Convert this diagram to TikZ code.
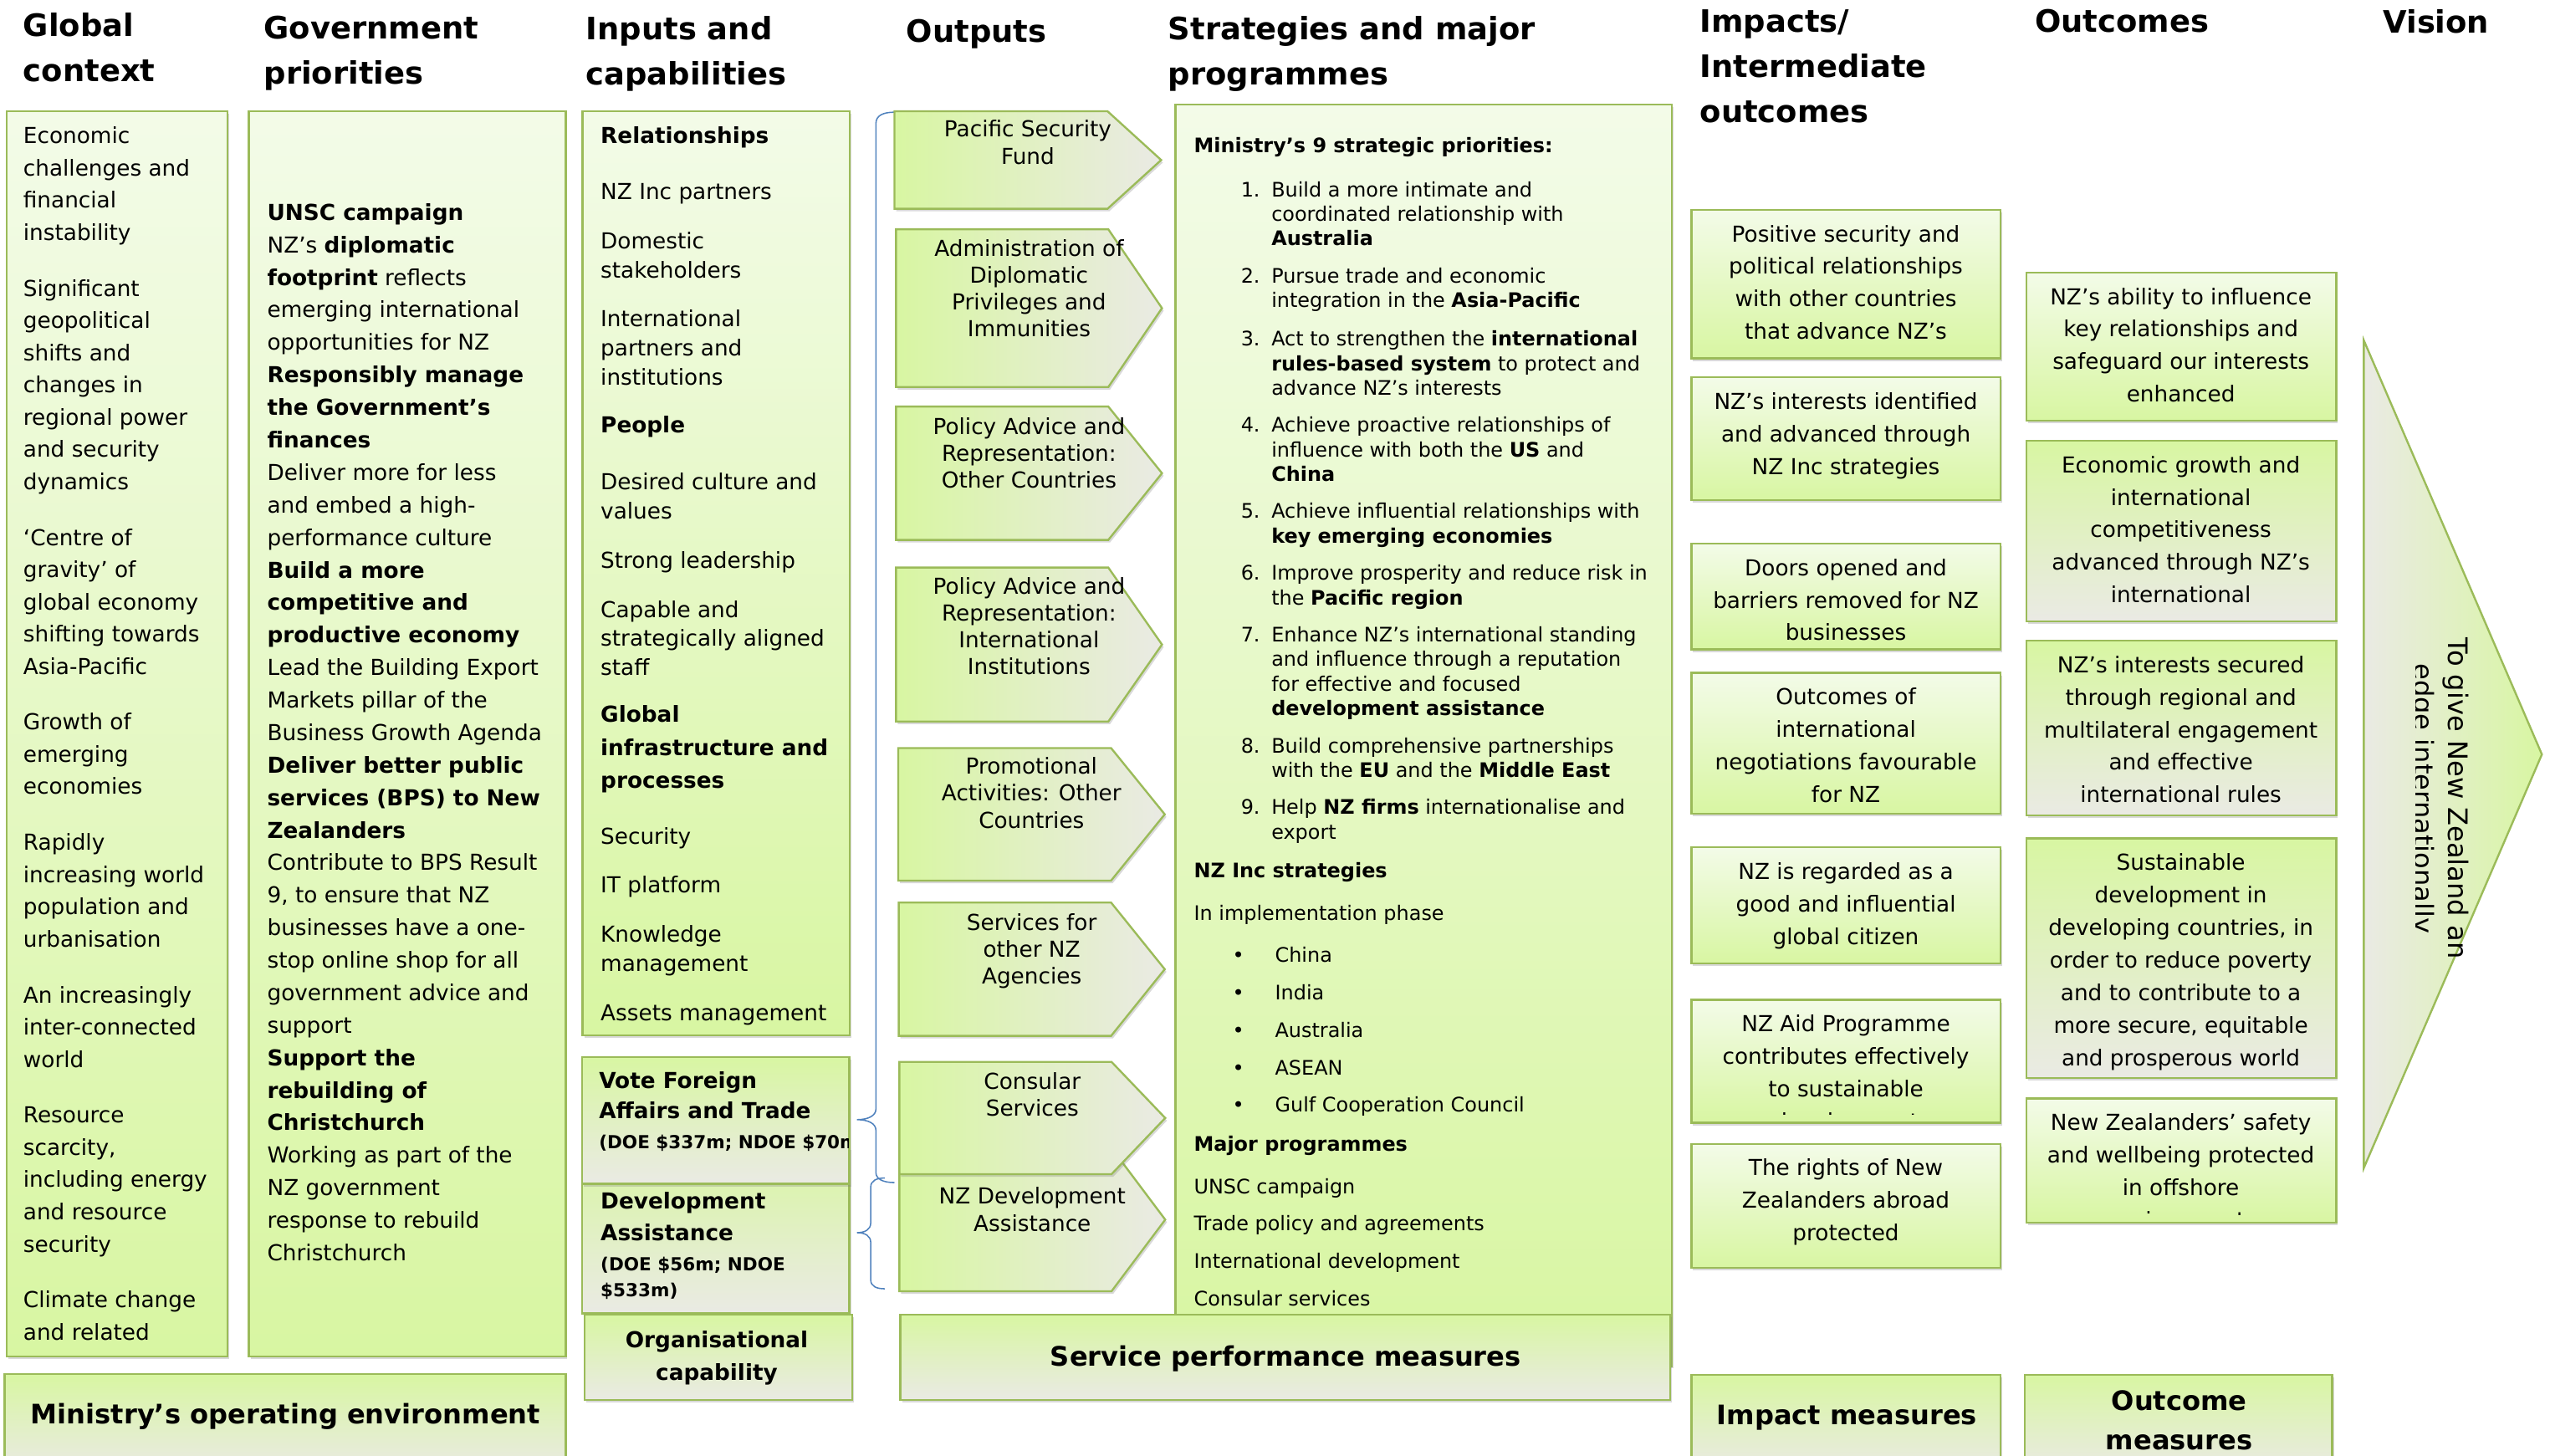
\documentclass[tikz,border=0pt]{standalone}
\usepackage{fontspec}
\setmainfont{DejaVu Sans}
\usetikzlibrary{fit,shadows}

\definecolor{lgtop}{RGB}{243,251,232}
\definecolor{lgbot}{RGB}{216,246,162}
\definecolor{greyc}{RGB}{234,234,228}
\definecolor{edgec}{RGB}{155,187,89}
\definecolor{bracec}{RGB}{79,129,189}

\newcommand{\stbullet}{\makebox[28.4pt][l]{\hspace*{13.5pt}\textbullet}}

% output chevron: name, left, top, tip, bottom, text top, text
\newcommand{\outchev}[7]{%
  \draw[chev] (#2,#3) -- (#4-33,#3) -- (#4,{(#3+#5)/2}) -- (#4-33,#5) -- (#2,#5) -- cycle;
  \node[chevtext] (#1) at ({(#2+#4)/2},#6) {#7};}

\tikzset{
  box/.style={draw=edgec, line width=0.7pt, inner sep=0pt,
    drop shadow={shadow xshift=0.6pt, shadow yshift=-0.9pt, opacity=0.3}},
  lightbox/.style={box, top color=lgtop, bottom color=lgbot},
  greybox/.style={box, top color=lgbot, bottom color=greyc},
  chev/.style={draw=edgec, line width=0.7pt, left color=lgbot, right color=greyc,
    drop shadow={shadow xshift=0.6pt, shadow yshift=-0.9pt, opacity=0.3}},
  head/.style={font=\fontsize{10.8}{15.9}\selectfont\bfseries, align=left,
    anchor=north west, inner sep=0pt},
  body/.style={font=\fontsize{7.7}{11.38}\selectfont, align=left,
    anchor=north west, inner sep=0pt},
  ctext/.style={font=\fontsize{7.7}{11.38}\selectfont, align=center,
    anchor=north, inner sep=0pt},
  chevtext/.style={font=\fontsize{7.7}{9.39}\selectfont, align=center,
    anchor=north, inner sep=0pt},
  stext/.style={font=\fontsize{7}{8.54}\selectfont, align=left,
    anchor=north west, inner sep=0pt},
  numlist/.style={font=\fontsize{7}{8.54}\selectfont, anchor=north west, inner sep=0pt},
  measure/.style={font=\fontsize{9.4}{13.7}\selectfont\bfseries, align=center, inner sep=0pt},
  bline/.style={draw=bracec, line width=0.45pt},
}

\begin{document}
\begin{tikzpicture}[x=0.02cm, y=-0.02cm]
\useasboundingbox (0,0) rectangle (1568,895);

% column heads
\node[head] (hglobal) at (14,7.5) {Global\\context};
\node[head] (hgov) at (162,9.5) {Government\\priorities};
\node[head] (hinput) at (360,9.5) {Inputs and\\capabilities};
\node[head] (houtput) at (557,11.5) {Outputs};
\node[head] (hstrat) at (718,9.5) {Strategies and major\\programmes};
\node[head] (himpact) at (1045,5.5) {Impacts/\\Intermediate\\outcomes};
\node[head] (houtcome) at (1251,5.5) {Outcomes};
\node[head] (hvision) at (1465,5.5) {Vision};

% global context
\node[lightbox, fit={(4,68.4) (140,834)}] (gcbox) {};
\node[body, font=\fontsize{7.7}{11.27}\selectfont] (gctxt) at (14,77.7) {Economic\\challenges and\\financial\\instability\\[8.3pt]
Significant\\geopolitical\\shifts and\\changes in\\regional power\\and security\\dynamics\\[8.3pt]
‘Centre of\\gravity’ of\\global economy\\shifting towards\\Asia-Pacific\\[8.3pt]
Growth of\\emerging\\economies\\[8.3pt]
Rapidly\\increasing world\\population and\\urbanisation\\[8.3pt]
An increasingly\\inter-connected\\world\\[8.3pt]
Resource\\scarcity,\\including energy\\and resource\\security\\[8.3pt]
Climate change\\and related};

% government priorities
\node[lightbox, fit={(153,68.4) (347.8,834)}] (gpbox) {};
\node[body] (gptxt) at (164,124.8) {\textbf{UNSC campaign}\\
NZ’s \textbf{diplomatic}\\
\textbf{footprint} reflects\\
emerging international\\
opportunities for NZ\\
\textbf{Responsibly manage}\\
\textbf{the Government’s}\\
\textbf{finances}\\
Deliver more for less\\
and embed a high-\\
performance culture\\
\textbf{Build a more}\\
\textbf{competitive and}\\
\textbf{productive economy}\\
Lead the Building Export\\
Markets pillar of the\\
Business Growth Agenda\\
\textbf{Deliver better public}\\
\textbf{services (BPS) to New}\\
\textbf{Zealanders}\\
Contribute to BPS Result\\
9, to ensure that NZ\\
businesses have a one-\\
stop online shop for all\\
government advice and\\
support\\
\textbf{Support the}\\
\textbf{rebuilding of}\\
\textbf{Christchurch}\\
Working as part of the\\
NZ government\\
response to rebuild\\
Christchurch};

% operating environment
\node[greybox, fit={(2.8,845) (347.8,905)}] (envbox) {};
\node[measure] (envtxt) at (175.6,871) {Ministry’s operating environment};

% inputs and capabilities
\node[lightbox, fit={(358.2,68.4) (522.5,636.7)}] (inbox) {};
\node[body, font=\fontsize{7.7}{10.24}\selectfont] (intxt) at (369,77.7) {\textbf{Relationships}\\[9.4pt]
NZ Inc partners\\[6.9pt]
Domestic\\stakeholders\\[6.9pt]
International\\partners and\\institutions\\[6.3pt]
\textbf{People}\\[9.7pt]
Desired culture and\\values\\[7.1pt]
Strong leadership\\[6.8pt]
Capable and\\strategically aligned\\staff\\[6.1pt]
\textbf{Global}\\[1.3pt]
\textbf{infrastructure and}\\[1.3pt]
\textbf{processes}\\[9.3pt]
Security\\[6.9pt]
IT platform\\[6.9pt]
Knowledge\\management\\[6.9pt]
Assets management};

% votes
\node[greybox, fit={(357.8,705.6) (522.3,807.7)}] (dabox) {};
\node[body] (datxt) at (369,732.5) {\textbf{Development}\\\textbf{Assistance}\\[-1.1pt]
{\fontsize{6.3}{7}\selectfont\bfseries (DOE \$56m; NDOE}\\[-2.3pt]
{\fontsize{6.3}{7}\selectfont\bfseries \$533m)}};
\node[greybox, fit={(357.8,650) (522.3,728)}] (vfbox) {};
\begin{scope}
  \clip (357.8,650) rectangle (521.8,728);
  \node[body] (vftxt) at (368,658.5) {\textbf{Vote Foreign}\\[-0.6pt]\textbf{Affairs and Trade}\\[-1.1pt]
  {\fontsize{6.3}{7}\selectfont\bfseries (DOE \$337m; NDOE \$70m)}};
\end{scope}

\node[greybox, fit={(359.5,808.5) (524,861)}] (ocbox) {};
\node[ctext, font=\fontsize{7.7}{11.38}\selectfont\bfseries] (octxt) at (440.7,818.2) {Organisational\\capability};

% brackets
\draw[bline] (550,69) .. controls (543,69) and (538.6,71) .. (538.6,76)
  -- (538.6,682) .. controls (538.6,686) and (534,688.5) .. (527,688.5)
  .. controls (534,688.5) and (538.6,691) .. (538.6,695)
  -- (538.6,721) .. controls (538.6,725) and (543,727.2) .. (550,727.2);
\draw[bline] (544,724.4) .. controls (539,724.4) and (535.4,726) .. (535.4,730)
  -- (535.4,752) .. controls (535.4,756) and (532,758) .. (527,758)
  .. controls (532,758) and (535.4,760) .. (535.4,764)
  -- (535.4,787) .. controls (535.4,791) and (539,792.5) .. (544,792.5);

% outputs
\outchev{psf}{550}{68.4}{714}{128.4}{73.7}{Pacific Security\\Fund}
\outchev{adp}{551}{141}{714.5}{238}{147.1}{Administration of\\Diplomatic\\Privileges and\\Immunities}
\outchev{pac}{551}{250}{714.5}{332}{256.5}{Policy Advice and\\Representation:\\Other Countries}
\outchev{pai}{551}{349}{714.5}{443.7}{354.8}{Policy Advice and\\Representation:\\International\\Institutions}
\outchev{pro}{552.3}{460}{716.2}{541.5}{465.5}{Promotional\\Activities: Other\\Countries}
\outchev{sfa}{552.6}{555}{716.2}{637}{561.5}{Services for\\other NZ\\Agencies}
\outchev{nzd}{553}{706}{716.5}{794}{729.9}{NZ Development\\Assistance}
\outchev{con}{553}{653}{716.5}{722}{659.3}{Consular\\Services}

% strategies and programmes
\node[lightbox, fit={(722.8,64.4) (1028,840)}] (stbox) {};
\node[stext, font=\fontsize{7}{8.54}\selectfont\bfseries] (sttitle) at (733.8,84) {Ministry’s 9 strategic priorities:};
\node[numlist] (stlist) at (762.7,110) {\begin{tabular}{@{}r@{\hspace{4pt}}l@{}}
1. & Build a more intimate and\\
   & coordinated relationship with\\
   & \textbf{Australia}\\[4.55pt]
2. & Pursue trade and economic\\
   & integration in the \textbf{Asia-Pacific}\\[5.1pt]
3. & Act to strengthen the \textbf{international}\\
   & \textbf{rules-based system} to protect and\\
   & advance NZ’s interests\\[4.55pt]
4. & Achieve proactive relationships of\\
   & influence with both the \textbf{US} and\\
   & \textbf{China}\\[4.55pt]
5. & Achieve influential relationships with\\
   & \textbf{key emerging economies}\\[4.55pt]
6. & Improve prosperity and reduce risk in\\
   & the \textbf{Pacific region}\\[4.55pt]
7. & Enhance NZ’s international standing\\
   & and influence through a reputation\\
   & for effective and focused\\
   & \textbf{development assistance}\\[4.55pt]
8. & Build comprehensive partnerships\\
   & with the \textbf{EU} and the \textbf{Middle East}\\[4.55pt]
9. & Help \textbf{NZ firms} internationalise and\\
   & export
\end{tabular}};
\node[stext] (strest) at (733.8,530) {\textbf{NZ Inc strategies}\\[6.3pt]
In implementation phase\\[6.3pt]
\stbullet China\\[4.55pt]
\stbullet India\\[4.55pt]
\stbullet Australia\\[4.55pt]
\stbullet ASEAN\\[4.55pt]
\stbullet Gulf Cooperation Council\\[5.1pt]
\textbf{Major programmes}\\[6.3pt]
UNSC campaign\\[4.55pt]
Trade policy and agreements\\[4.55pt]
International development\\[4.55pt]
Consular services};

\node[greybox, fit={(553.6,808.4) (1027,861)}] (spbox) {};
\node[measure] (sptxt) at (790.6,835.7) {Service performance measures};

% impacts
\foreach \nm/\ya/\yb/\txt in {
  ima/129/220.4/{Positive security and\\political relationships\\with other countries\\that advance NZ’s},
  imb/232/307.6/{NZ’s interests identified\\and advanced through\\NZ Inc strategies},
  imc/334.3/399.3/{Doors opened and\\barriers removed for NZ\\businesses},
  imd/413.8/500.4/{Outcomes of\\international\\negotiations favourable\\for NZ},
  ime/521/592.3/{NZ is regarded as a\\good and influential\\global citizen},
  imf/614.9/690.4/{NZ Aid Programme\\contributes effectively\\to sustainable\\development},
  img/703.4/779.6/{The rights of New\\Zealanders abroad\\protected}}
{
  \node[lightbox, fit={(1040,\ya) (1230,\yb)}] (\nm) {};
  \begin{scope}
    \clip (1040,\ya) rectangle (1230,\yb-5);
    \node[ctext] (\nm-t) at (1135,\ya+9) {\txt};
  \end{scope}
}
\node[greybox, fit={(1040,845.3) (1230,905)}] (imm) {};
\node[measure] (imm-t) at (1135.7,871.7) {Impact measures};

% outcomes
\foreach \nm/\ct/\cb/\ya/\yb/\txt in {
  oca/lgtop/lgbot/167.6/258.7/{NZ’s ability to influence\\key relationships and\\safeguard our interests\\enhanced},
  ocb/lgbot/greyc/271/382/{Economic growth and\\international\\competitiveness\\advanced through NZ’s\\international},
  occ/lgbot/greyc/394/501.4/{NZ’s interests secured\\through regional and\\multilateral engagement\\and effective\\international rules},
  ocd/lgbot/greyc/515.6/663/{Sustainable\\development in\\developing countries, in\\order to reduce poverty\\and to contribute to a\\more secure, equitable\\and prosperous world},
  oce/lgtop/lgbot/675.4/752/{New Zealanders’ safety\\and wellbeing protected\\in offshore\\environments}}
{
  \node[box, top color=\ct, bottom color=\cb, fit={(1246,\ya) (1436.5,\yb)}] (\nm) {};
  \begin{scope}
    \clip (1246,\ya) rectangle (1436.5,\yb-5);
    \node[ctext] (\nm-t) at (1341,\ya+9) {\txt};
  \end{scope}
}
\node[greybox, fit={(1245,845.3) (1434,905)}] (ocm) {};
\node[measure] (ocm-t) at (1340,873.3) {Outcome\\measures};

% vision
\draw[draw=edgec, line width=0.7pt, left color=greyc, right color=lgbot]
  (1453.5,209.3) -- (1563,463.9) -- (1453.5,718.2) -- cycle;
\begin{scope}
  \clip (1485.5,0) rectangle (1568,895);
  \node[rotate=-90, align=center, font=\fontsize{9.4}{11.95}\selectfont, inner sep=0pt]
    (vistxt) at (1499.7,491) {To give New Zealand an\\edge internationally};
\end{scope}
\end{tikzpicture}
\end{document}
